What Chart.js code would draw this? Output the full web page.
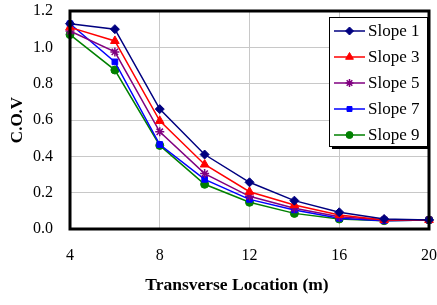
<!DOCTYPE html>
<html>
<head>
<meta charset="utf-8">
<script src="https://cdn.jsdelivr.net/npm/chart.js@4"></script>
<style>
  html, body { margin: 0; padding: 0; background: #ffffff; }
  #wrap { width: 437px; height: 305px; }
</style>
</head>
<body>
<div id="wrap"><canvas id="myChart" width="437" height="305"></canvas></div>
<script>
const location_m = [4, 6, 8, 10, 12, 14, 16, 18, 20];

const slope1 = [1.13, 1.10, 0.66, 0.41, 0.257, 0.156, 0.092, 0.055, 0.05];
const slope3 = [1.11, 1.035, 0.595, 0.355, 0.205, 0.132, 0.077, 0.05, 0.05];
const slope5 = [1.09, 0.975, 0.535, 0.305, 0.18, 0.114, 0.068, 0.05, 0.05];
const slope7 = [1.13, 0.92, 0.465, 0.273, 0.163, 0.105, 0.059, 0.046, 0.05];
const slope9 = [1.07, 0.875, 0.46, 0.246, 0.147, 0.086, 0.055, 0.046, 0.05];

const seriesNames = ['Slope 1', 'Slope 3', 'Slope 5', 'Slope 7', 'Slope 9'];
const xTicks = [4, 8, 12, 16, 20];
const yTicks = [0, 0.2, 0.4, 0.6, 0.8, 1.0, 1.2];
const xTitle = 'Transverse Location (m)';

const serif = "'Liberation Serif', 'DejaVu Serif', serif";

function pts(vals) {
    return vals.map((v, i) => ({ x: location_m[i], y: v }));
}

function serie(name, vals, color, style, radius) {
    return {
        label: name,
        data: pts(vals),
        borderColor: color,
        backgroundColor: color,
        borderWidth: 1.5,
        pointStyle: style,
        pointRadius: radius,
        pointBorderWidth: style === 'star' ? 1.5 : 1,
        pointHoverRadius: radius,
        clip: false
    };
}

const data = {
    datasets: [
        serie(seriesNames[0], slope1, '#000080', 'rectRot', 4.5),
        serie(seriesNames[1], slope3, '#ff0000', 'triangle', 5),
        serie(seriesNames[2], slope5, '#800080', 'star', 4.5),
        serie(seriesNames[3], slope7, '#0000ff', 'rect', 4),
        serie(seriesNames[4], slope9, '#008000', 'circle', 4)
    ]
};

// borda grossa + legenda dentro do grafico + titulo do eixo x
const moldura = {
    id: 'moldura',
    afterDatasetsDraw(chart) {
        const ctx = chart.ctx;
        const a = chart.chartArea;
        ctx.save();
        ctx.strokeStyle = '#000';
        ctx.lineWidth = 3;
        ctx.strokeRect(a.left, a.top, a.right - a.left, a.bottom - a.top);

        // titulo x (um pouco a esquerda do centro, como no original)
        ctx.fillStyle = '#000';
        ctx.font = 'bold 17.5px ' + serif;
        ctx.textAlign = 'center';
        ctx.textBaseline = 'middle';
        ctx.fillText(xTitle, 237, 285);

        // legenda
        const bx = 329, by = 17, bw = 98, bh = 129;
        ctx.fillStyle = '#000';
        ctx.fillRect(bx + 3, by + 3, bw, bh);
        ctx.fillStyle = '#fff';
        ctx.fillRect(bx, by, bw, bh);
        ctx.lineWidth = 1;
        ctx.strokeRect(bx + 0.5, by + 0.5, bw, bh);

        ctx.font = '17px ' + serif;
        ctx.textBaseline = 'middle';
        ctx.textAlign = 'left';
        chart.data.datasets.forEach((ds, i) => {
            const y = by + 14 + i * 26;
            ctx.strokeStyle = ds.borderColor;
            ctx.lineWidth = 1.5;
            ctx.beginPath();
            ctx.moveTo(bx + 5, y);
            ctx.lineTo(bx + 36, y);
            ctx.stroke();
            ctx.fillStyle = ds.backgroundColor;
            ctx.lineWidth = ds.pointBorderWidth;
            Chart.helpers.drawPoint(ctx, { pointStyle: ds.pointStyle, radius: ds.pointRadius - 0.5, borderWidth: ds.pointBorderWidth }, bx + 20.5, y);
            ctx.fillStyle = '#000';
            ctx.fillText(ds.label, bx + 39, y + 1);
        });
        ctx.restore();
    }
};

const config = {
    type: 'line',
    data: data,
    options: {
        responsive: false,
        animation: false,
        events: [],
        layout: {
            padding: { left: 0, top: 11, right: 8, bottom: 0 }
        },
        scales: {
            x: {
                type: 'linear',
                min: 4,
                max: 20,
                afterBuildTicks: (s) => { s.ticks = xTicks.map(v => ({ value: v })); },
                afterFit: (s) => {
                    s.height = 76;
                    s.paddingLeft = 0;
                    s.paddingRight = 0;
                },
                ticks: {
                    color: '#000',
                    padding: 17,
                    maxRotation: 0,
                    font: { family: serif, size: 16 }
                },
                grid: { color: '#c8c8c8', lineWidth: 1, drawTicks: false },
                border: { display: false },
                title: { display: false }
            },
            y: {
                min: 0,
                max: 1.2,
                afterBuildTicks: (s) => { s.ticks = yTicks.map(v => ({ value: v })); },
                afterFit: (s) => {
                    s.width = 70;
                    s.paddingTop = 0;
                    s.paddingBottom = 0;
                },
                ticks: {
                    color: '#000',
                    padding: 17,
                    callback: (v) => Number(v).toFixed(1),
                    font: { family: serif, size: 16 }
                },
                grid: { color: '#c8c8c8', lineWidth: 1, drawTicks: false },
                border: { display: false },
                title: {
                    display: true,
                    text: 'C.O.V',
                    color: '#000',
                    padding: { top: 7, bottom: 0 },
                    font: { family: serif, size: 17, weight: 'bold' }
                }
            }
        },
        plugins: {
            legend: { display: false },
            tooltip: { enabled: false }
        }
    },
    plugins: [moldura]
};

const grafico = new Chart(document.getElementById('myChart'), config);
</script>
</body>
</html>
